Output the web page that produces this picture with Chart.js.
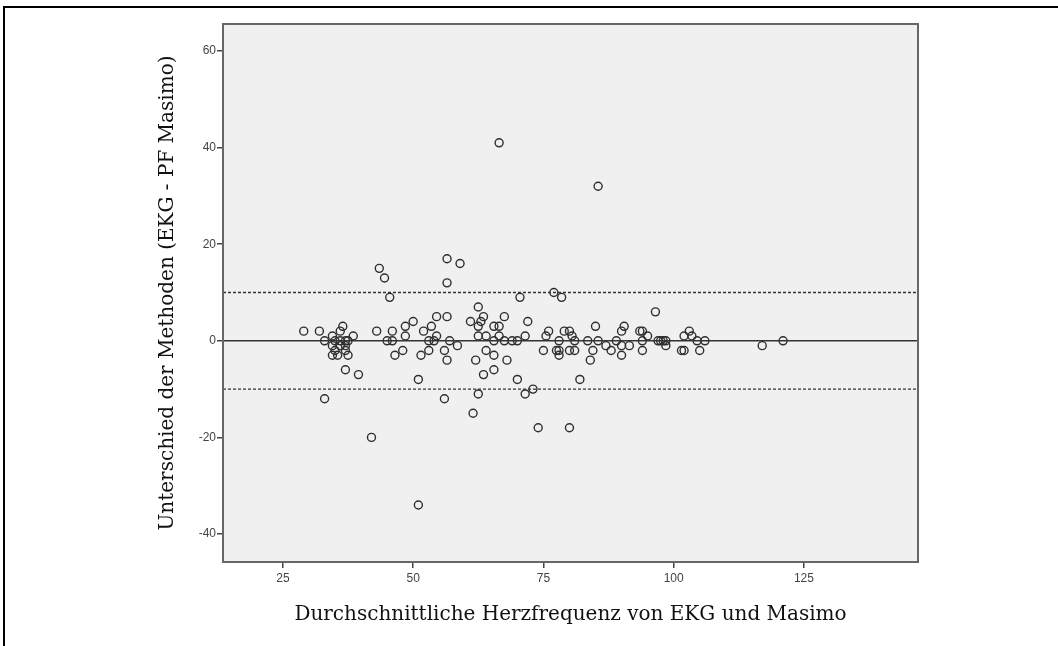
<!DOCTYPE html>
<html>
<head>
<meta charset="utf-8">
<script src="https://cdn.jsdelivr.net/npm/chart.js@4"></script>
<style>
  html, body { margin: 0; padding: 0; background: #fff; }
  #frame {
    position: absolute; left: 3px; top: 6px; width: 2000px; height: 2000px;
    border-top: 2px solid #000; border-left: 2px solid #000;
  }
  #wrap { position: absolute; left: 0; top: 0; width: 1058px; height: 646px; }
</style>
</head>
<body>
<div id="frame"></div>
<div id="wrap"><canvas id="baChart"></canvas></div>
<script>
// Bland-Altman: mean heart rate (x) vs. difference EKG - PF Masimo (y)
const meanHR = [
  29, 32, 33, 33, 34.5, 34.5, 34.5, 35.5, 36.5, 36, 37, 36, 37.5, 37.5, 37, 38.5, 37, 39.5,
  35, 36, 37, 35,
  43, 43.5, 44.5, 45.5, 45, 46, 46, 46.5, 48, 48.5, 48.5, 50, 51, 52, 51.5, 53, 53.5, 54.5,
  54, 54.5, 53, 56.5, 56.5, 56.5, 59, 56, 42, 56, 56.5, 51,
  57, 58.5, 61, 62.5, 63.5, 62.5, 63, 62.5, 64, 62, 64, 65.5, 63.5, 65.5, 62.5, 61.5,
  65.5, 66.5, 67.5, 66.5, 65.5, 67.5, 68, 69, 70, 70.5, 70, 71.5, 73, 71.5, 72, 74,
  75, 75.5, 76, 77, 78.5, 77.5, 78, 78, 78, 79, 80, 80, 80.5, 81, 81, 80, 82,
  83.5, 85, 84.5, 84, 85.5, 87, 88,
  89, 90, 90, 90.5, 90, 91.5, 93.5, 94, 94, 94, 95, 96.5, 97, 98, 98.5, 98.5, 97.5,
  101.5, 102, 102, 103, 103.5, 104.5, 105, 106, 117, 121,
  66.5, 85.5
];
const diffHR = [
  2, 2, 0, -12, 1, -1, -3, -3, 3, 2, 0, -1, 0, -3, -2, 1, -6, -7,
  -2, 0, -1, 0,
  2, 15, 13, 9, 0, 0, 2, -3, -2, 1, 3, 4, -8, 2, -3, -2, 3, 5,
  0, 1, 0, 5, 17, 12, 16, -12, -20, -2, -4, -34,
  0, -1, 4, 7, 5, 3, 4, 1, 1, -4, -2, -3, -7, -6, -11, -15,
  3, 3, 5, 1, 0, 0, -4, 0, 0, 9, -8, -11, -10, 1, 4, -18,
  -2, 1, 2, 10, 9, -2, -3, -2, 0, 2, 2, -18, 1, 0, -2, -2, -8,
  0, 3, -2, -4, 0, -1, -2,
  0, -3, 2, 3, -1, -1, 2, 2, -2, 0, 1, 6, 0, 0, -1, 0, 0,
  -2, -2, 1, 2, 1, 0, -2, 0, -1, 0,
  41, 32
];

const xRange = [13.5, 146.9];
const yRange = [-45.8, 65.6];
const xTicks = [25, 50, 75, 100, 125];
const yTicks = [-40, -20, 0, 20, 40, 60];
const meanLine = 0;
const limits = [-10, 10];

const points = meanHR.map((x, i) => ({ x: x, y: diffHR[i] }));
const hLine = y => xRange.map(x => ({ x: x, y: y }));

// plot panel: grey fill + frame on all four sides
const panelPlugin = {
  id: 'panel',
  beforeDraw(chart) {
    const { ctx, chartArea: a } = chart;
    ctx.save();
    ctx.fillStyle = '#f0f0f0';
    ctx.fillRect(a.left, a.top, a.right - a.left, a.bottom - a.top);
    ctx.restore();
  },
  afterDraw(chart) {
    const { ctx, chartArea: a } = chart;
    ctx.save();
    ctx.strokeStyle = '#666';
    ctx.lineWidth = 2;
    ctx.strokeRect(a.left, a.top, a.right - a.left, a.bottom - a.top);
    ctx.restore();
  }
};

const refLine = (y, dashed) => ({
  type: 'line',
  data: hLine(y),
  borderColor: '#333',
  borderWidth: dashed ? 1.3 : 1.6,
  borderDash: dashed ? [3, 2] : [],
  pointRadius: 0,
  fill: false
});

new Chart(document.getElementById('baChart'), {
  type: 'scatter',
  data: {
    datasets: [
      refLine(meanLine, false),
      refLine(limits[0], true),
      refLine(limits[1], true),
      {
        data: points,
        pointRadius: 4,
        pointBorderWidth: 1.4,
        borderColor: '#2e2e2e',
        backgroundColor: 'rgba(0,0,0,0)'
      }
    ]
  },
  options: {
    responsive: true,
    maintainAspectRatio: false,
    animation: false,
    layout: { padding: { left: 146, right: 140, top: 24, bottom: 0 } },
    plugins: { legend: { display: false }, tooltip: { enabled: false } },
    scales: {
      x: {
        type: 'linear',
        min: xRange[0],
        max: xRange[1],
        afterBuildTicks: s => { s.ticks = xTicks.map(v => ({ value: v })); },
        afterFit: s => { s.height = 84; },
        border: { display: true, color: '#555', width: 2 },
        grid: { drawOnChartArea: false, drawTicks: true, tickLength: 6, tickColor: '#444', lineWidth: 1.5 },
        ticks: { color: '#444', padding: 3, font: { family: 'Liberation Sans, Arial', size: 12 } },
        title: {
          display: true,
          text: 'Durchschnittliche Herzfrequenz von EKG und Masimo',
          color: '#111',
          font: { family: 'DejaVu Serif', size: 20 },
          padding: { top: 0, bottom: 19 }
        }
      },
      y: {
        type: 'linear',
        min: yRange[0],
        max: yRange[1],
        afterBuildTicks: s => { s.ticks = yTicks.map(v => ({ value: v })); },
        afterFit: s => { s.width = 77; },
        border: { display: true, color: '#555', width: 2 },
        grid: { drawOnChartArea: false, drawTicks: true, tickLength: 6, tickColor: '#444', lineWidth: 1.5 },
        ticks: { color: '#444', padding: 1, font: { family: 'Liberation Sans, Arial', size: 12 } },
        title: {
          display: true,
          text: 'Unterschied der Methoden (EKG - PF Masimo)',
          color: '#111',
          font: { family: 'DejaVu Serif', size: 20 },
          padding: { top: 10, bottom: 0 }
        }
      }
    }
  },
  plugins: [panelPlugin]
});
</script>
</body>
</html>
